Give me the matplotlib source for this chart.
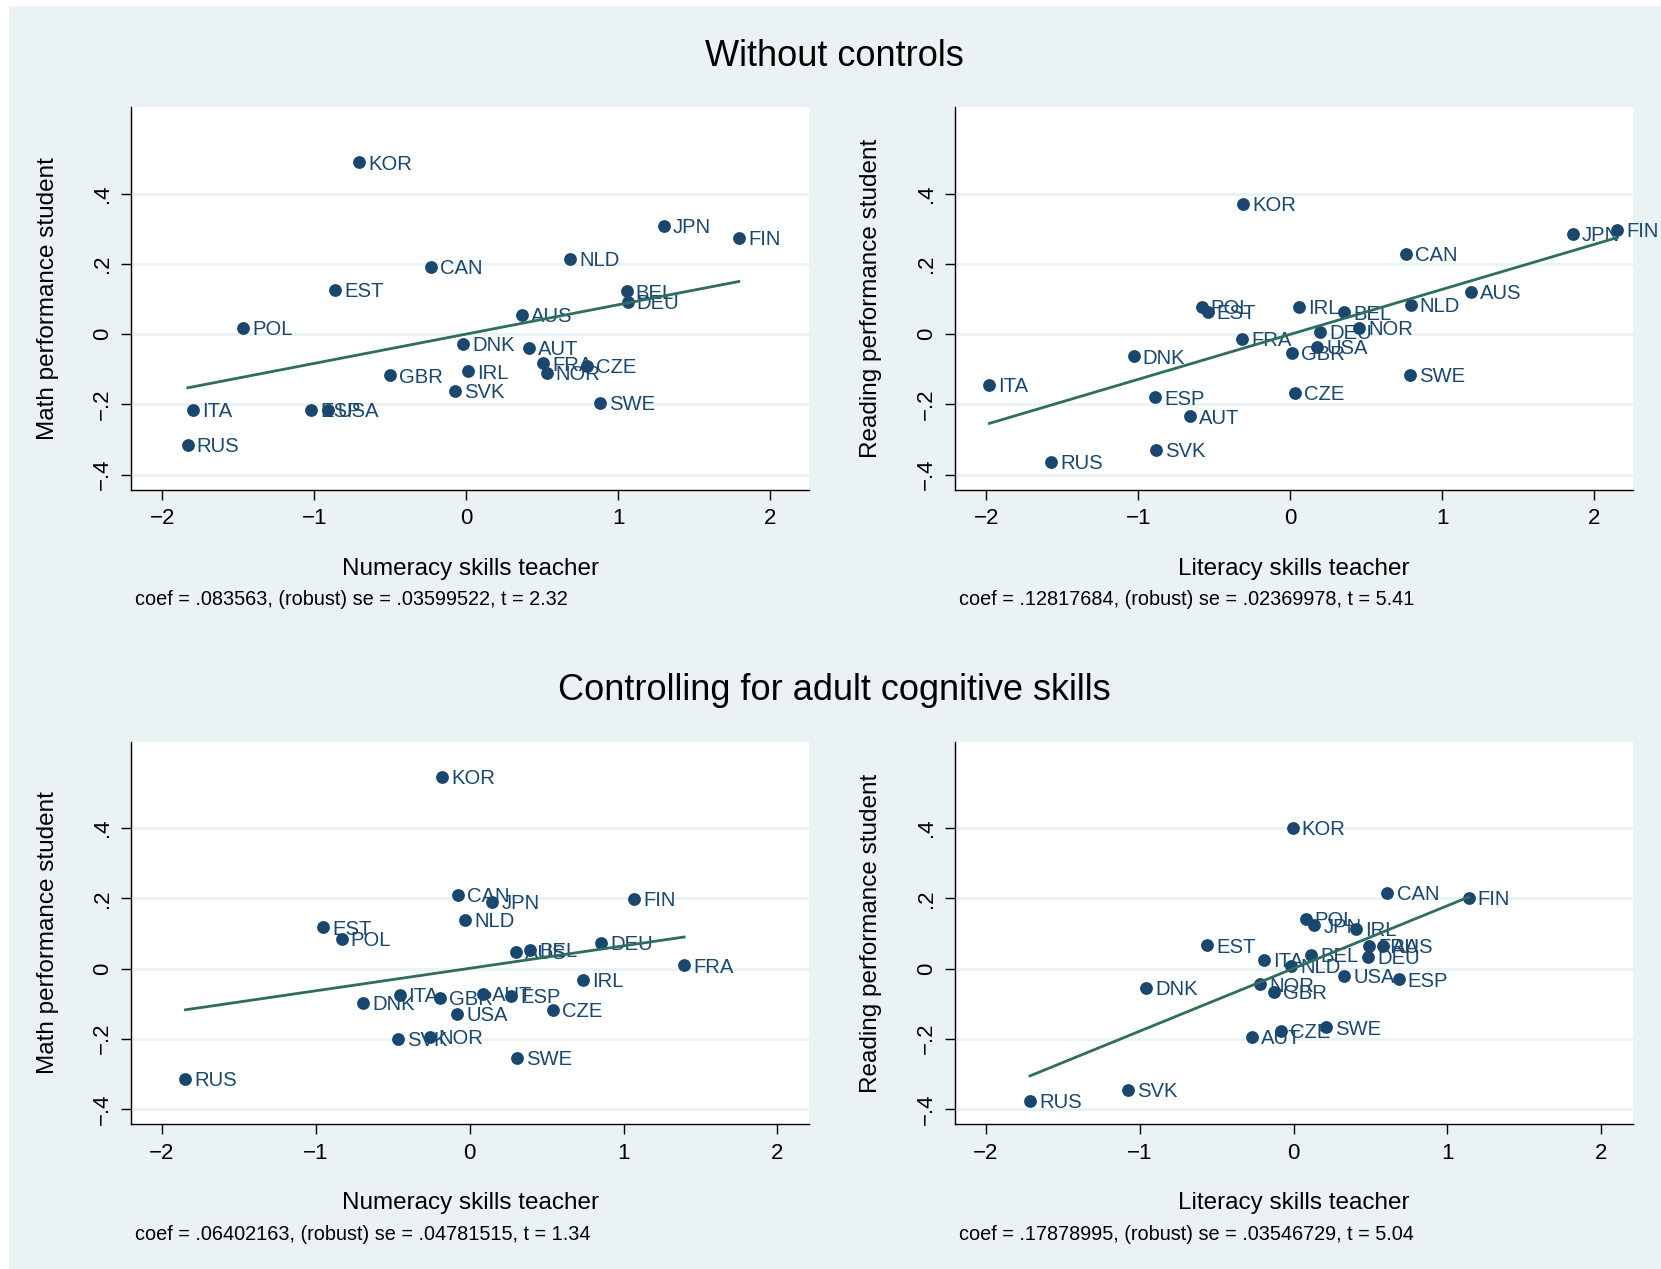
import numpy as np
import matplotlib.pyplot as plt
from matplotlib.patches import Rectangle

plt.rcParams['font.family'] = ['Liberation Sans', 'DejaVu Sans']

countries = ["AUS", "AUT", "BEL", "CAN", "CZE", "DEU", "DNK", "ESP", "EST", "FIN", "FRA", "GBR",
             "IRL", "ITA", "JPN", "KOR", "NLD", "NOR", "POL", "RUS", "SVK", "SWE", "USA"]

# without controls
num_teacher = [0.366, 0.415, 1.055, -0.234, 0.797, 1.062, -0.021, -1.023, -0.861, 1.794, 0.505, -0.505,
               0.010, -1.801, 1.299, -0.705, 0.682, 0.530, -1.468, -1.833, -0.077, 0.878, -0.910]
math_student = [0.055, -0.039, 0.122, 0.193, -0.090, 0.093, -0.027, -0.215, 0.127, 0.275, -0.083, -0.117,
                -0.106, -0.215, 0.309, 0.490, 0.215, -0.111, 0.019, -0.316, -0.161, -0.195, -0.215]
lit_teacher = [1.191, -0.661, 0.358, 0.762, 0.033, 0.197, -1.030, -0.887, -0.542, 2.154, -0.315, 0.013,
               0.058, -1.979, 1.861, -0.309, 0.794, 0.455, -0.583, -1.571, -0.884, 0.786, 0.180]
read_student = [0.120, -0.234, 0.062, 0.229, -0.167, 0.007, -0.063, -0.180, 0.064, 0.298, -0.013, -0.053,
                0.079, -0.144, 0.287, 0.372, 0.084, 0.018, 0.079, -0.364, -0.329, -0.116, -0.035]

# controlling for adult cognitive skills
num_teacher_c = [0.301, 0.085, 0.391, -0.074, 0.543, 0.853, -0.694, 0.271, -0.952, 1.067, 1.394, -0.194,
                 0.739, -0.456, 0.147, -0.177, -0.029, -0.260, -0.832, -1.848, -0.463, 0.305, -0.081]
math_student_c = [0.048, -0.073, 0.053, 0.210, -0.117, 0.073, -0.097, -0.079, 0.117, 0.199, 0.009, -0.084,
                  -0.032, -0.075, 0.189, 0.546, 0.139, -0.194, 0.084, -0.315, -0.200, -0.254, -0.130]
lit_teacher_c = [0.581, -0.271, 0.116, 0.611, -0.081, 0.484, -0.959, 0.684, -0.560, 1.139, 0.494, -0.129,
                 0.408, -0.194, 0.136, -0.005, -0.016, -0.215, 0.078, -1.713, -1.073, 0.209, 0.329]
read_student_c = [0.064, -0.195, 0.039, 0.216, -0.177, 0.034, -0.055, -0.031, 0.066, 0.201, 0.064, -0.066,
                  0.113, 0.025, 0.123, 0.401, 0.007, -0.045, 0.142, -0.377, -0.345, -0.168, -0.021]

coefs = [0.083563, 0.12817684, 0.06402163, 0.17878995]
notes = ["coef = .083563, (robust) se = .03599522, t = 2.32",
         "coef = .12817684, (robust) se = .02369978, t = 5.41",
         "coef = .06402163, (robust) se = .04781515, t = 1.34",
         "coef = .17878995, (robust) se = .03546729, t = 5.04"]
xlabs = ["Numeracy skills teacher", "Literacy skills teacher"] * 2
ylabs = ["Math performance student", "Reading performance student"] * 2
row_titles = ["Without controls", "Controlling for adult cognitive skills"]

xtick_vals = [-2, -1, 0, 1, 2]
xtick_labels = ["\u22122", "\u22121", "0", "1", "2"]
ytick_vals = [-0.4, -0.2, 0, 0.2, 0.4]
ytick_labels = ["\u2212.4", "\u2212.2", "0", ".2", ".4"]

navy = '#1a476f'
green = '#2d6e5c'
bg = '#eaf2f3'

fig = plt.figure(figsize=(16.61, 12.69), dpi=100)
fig.patches.append(Rectangle((9 / 1661, 0), 1, 1 - 6 / 1269, transform=fig.transFigure,
                             facecolor=bg, edgecolor='none', zorder=-10))

xs = [num_teacher, lit_teacher, num_teacher_c, lit_teacher_c]
ys = [math_student, read_student, math_student_c, read_student_c]
lefts = [0.07905, 0.57501]
bottoms = [0.61387, 0.11403]
xlims = [(-2.205, 2.255), (-2.205, 2.255), (-2.2, 2.205), (-2.2, 2.205)]

for i in range(4):
    ax = fig.add_axes([lefts[i % 2], bottoms[i // 2], 0.40795, 0.3016])
    x = np.array(xs[i])
    y = np.array(ys[i])

    ax.scatter(x, y, s=85, color=navy, zorder=3, linewidths=0)
    for c, xi, yi in zip(countries, x, y):
        ax.annotate(c, (xi, yi), xytext=(6.5, -5.2), textcoords='offset points',
                    fontsize=14.6, color=navy, va='baseline', ha='left', zorder=4)

    # fitted line through the means
    b = coefs[i]
    a = y.mean() - b * x.mean()
    lx = np.array([x.min(), x.max()])
    ax.plot(lx, a + b * lx, color=green, lw=2, zorder=5)

    ax.set_xlim(xlims[i])
    ax.set_ylim(-0.444, 0.647)
    ax.set_xticks(xtick_vals)
    ax.set_xticklabels(xtick_labels, fontsize=16)
    ax.set_yticks(ytick_vals)
    ax.set_yticklabels(ytick_labels, fontsize=16, rotation=90, va='center')
    ax.tick_params(length=7.2, width=1, direction='out', pad=6)
    ax.grid(axis='y', color=bg, lw=2)
    ax.set_axisbelow(True)
    for s in ['top', 'right']:
        ax.spines[s].set_visible(False)
    for s in ['left', 'bottom']:
        ax.spines[s].set_linewidth(1)

    ax.set_xlabel(xlabs[i], fontsize=17.5, va='center')
    ax.xaxis.set_label_coords(0.5, -0.206)
    ax.set_ylabel(ylabs[i], fontsize=17.5, va='center')
    ax.yaxis.set_label_coords(-0.1234, 0.5)
    ax.text(0.006, -0.287, notes[i], transform=ax.transAxes, fontsize=14.3,
            va='center', ha='left')

fig.text(0.5022, 1 - 56 / 1269, row_titles[0], fontsize=26, ha='center', va='center')
fig.text(0.5022, 1 - 690.5 / 1269, row_titles[1], fontsize=26, ha='center', va='center')

fig.savefig('out.png', dpi=100)
